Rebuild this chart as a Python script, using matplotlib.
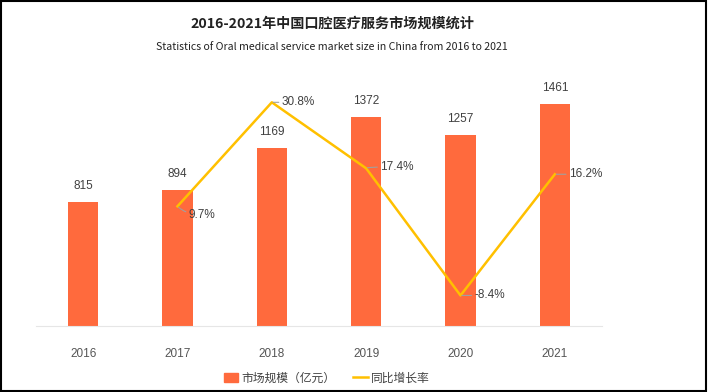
import matplotlib.pyplot as plt
from matplotlib.patches import Rectangle

plt.rcParams['font.family'] = ['Noto Sans CJK SC', 'DejaVu Sans']

years = ['2016', '2017', '2018', '2019', '2020', '2021']
market_size = [815, 894, 1169, 1372, 1257, 1461]  # 亿元
growth_years = ['2017', '2018', '2019', '2020', '2021']
growth_rate = [9.7, 30.8, 17.4, -8.4, 16.2]  # %

bar_color = '#FF6A3D'
line_color = '#FFC000'
text_color = '#404040'

fig = plt.figure(figsize=(7.08, 3.92), dpi=100)
ax = fig.add_axes([36/708, 66/392, 566/708, 236/392])

x = list(range(len(years)))
ax.bar(x, market_size, width=0.32, color=bar_color, zorder=2)
for xi, v in zip(x, market_size):
    ax.annotate(str(v), (xi, v), xytext=(0, 7), textcoords='offset points',
                ha='center', va='bottom', fontsize=8.5, color=text_color,
                family='Liberation Sans')

ax.set_xlim(-0.5, len(years) - 0.5)
ax.set_ylim(0, 1550)
ax.set_xticks(x)
ax.set_xticklabels(years, fontsize=8.5, color='#555555', family='Liberation Sans')
ax.tick_params(axis='x', length=0, pad=16)
ax.set_yticks([])
for s in ['top', 'right', 'left']:
    ax.spines[s].set_visible(False)
ax.spines['bottom'].set_color('#e6e6e6')

ax2 = ax.twinx()
gx = [years.index(y) for y in growth_years]
ax2.plot(gx, growth_rate, color=line_color, lw=1.8, zorder=3)
ax2.set_ylim(-14.6, 33.3)
ax2.axis('off')

# label offsets (points) for the growth labels
offsets = [(8, -6), (7, 0), (10, 1), (10, 0), (10, 0)]
for xi, v, off in zip(gx, growth_rate, offsets):
    ax2.annotate(f'{v}%', (xi, v), xytext=off, textcoords='offset points',
                 ha='left', va='center', fontsize=8.5, color=text_color,
                 family='Liberation Sans',
                 arrowprops=dict(arrowstyle='-', color='#a0a0a0', lw=0.8,
                                 shrinkA=0, shrinkB=1,
                                 connectionstyle='angle3,angleA=0,angleB=-45'))

fig.text(332/708, 1 - 24/392, '2016-2021年中国口腔医疗服务市场规模统计',
         ha='center', va='center', fontsize=10.2, fontweight='bold', color='#222222')
fig.text(332/708, 1 - 47/392,
         'Statistics of Oral medical service market size in China from 2016 to 2021',
         ha='center', va='center', fontsize=7.6, color='#222222')

# legend
handles = [Rectangle((0, 0), 1, 1, color=bar_color),
           plt.Line2D([], [], color=line_color, lw=1.8)]
fig.legend(handles, ['市场规模（亿元）', '同比增长率'], loc='center',
           bbox_to_anchor=(327/708, 1 - 378/392), ncol=2, frameon=False,
           fontsize=8.5, handlelength=1.2, handletextpad=0.3, columnspacing=1.5,
           labelcolor=text_color)

# frame around the picture
fig.patches.append(Rectangle((0.001, 0.002), 0.996, 0.995, transform=fig.transFigure,
                             fill=False, edgecolor='black', lw=1.5))

fig.savefig('out.png', dpi=100)
